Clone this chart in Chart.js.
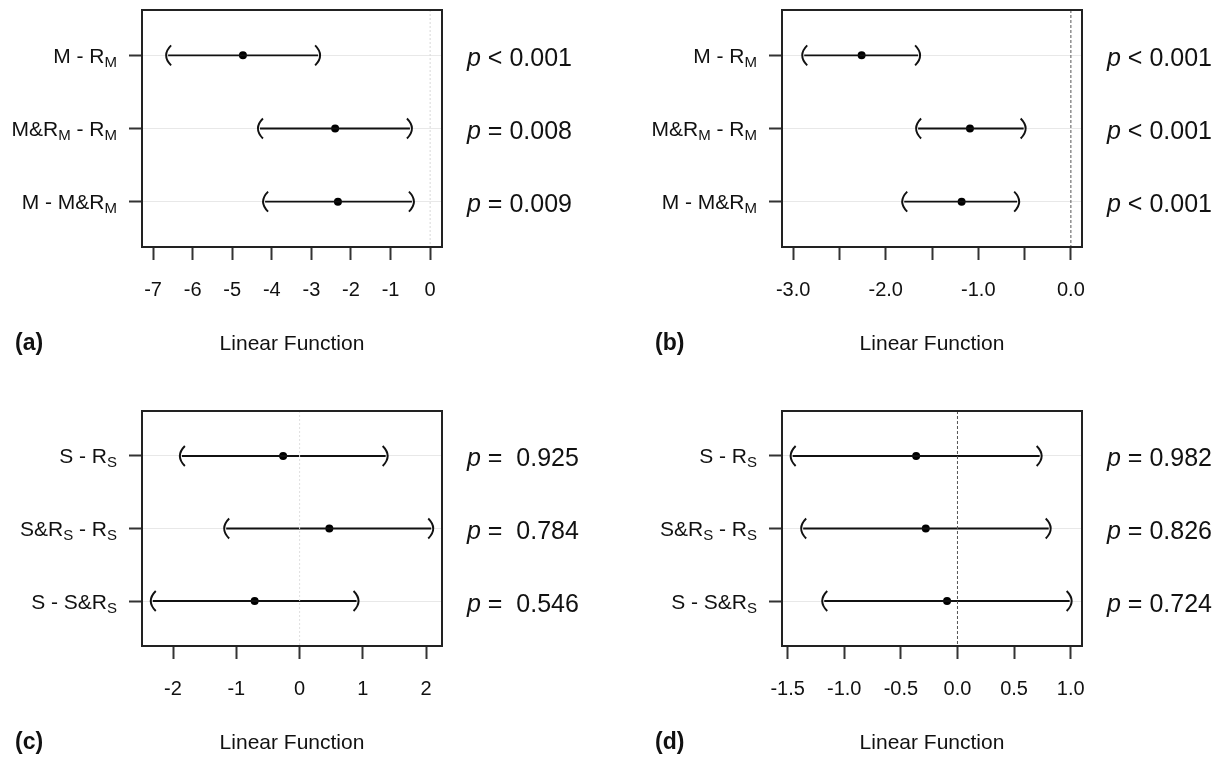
<!DOCTYPE html>
<html>
<head>
<meta charset="utf-8">
<script src="https://cdn.jsdelivr.net/npm/chart.js"></script>
<style>
  body { margin: 0; background: #fff; }
  #wrap { position: relative; width: 1223px; height: 758px; }
  canvas { position: absolute; }
</style>
</head>
<body>
<div id="wrap">
  <canvas id="pa" width="611" height="379" style="left:0;top:0"></canvas>
  <canvas id="pb" width="612" height="379" style="left:611px;top:0"></canvas>
  <canvas id="pc" width="611" height="379" style="left:0;top:379px"></canvas>
  <canvas id="pd" width="612" height="379" style="left:611px;top:379px"></canvas>
</div>
<script>
// comparisons, top to bottom ( _X = subscript X )
const rowsM = ['M - R_M', 'M&R_M - R_M', 'M - M&R_M'];
const rowsS = ['S - R_S', 'S&R_S - R_S', 'S - S&R_S'];
const rowPos = [1, 2, 3];

// (a)
const aEst  = [-4.73, -2.40, -2.33];
const aLow  = [-6.62, -4.30, -4.17];
const aHigh = [-2.83, -0.51, -0.46];
const aP    = ['< 0.001', '= 0.008', '= 0.009'];
const aTicks = [-7, -6, -5, -4, -3, -2, -1, 0];
const aTickLabels = ['-7', '-6', '-5', '-4', '-3', '-2', '-1', '0'];

// (b)
const bEst  = [-2.26, -1.09, -1.18];
const bLow  = [-2.88, -1.65, -1.80];
const bHigh = [-1.65, -0.51, -0.58];
const bP    = ['< 0.001', '< 0.001', '< 0.001'];
const bTicks = [-3, -2.5, -2, -1.5, -1, -0.5, 0];
const bTickLabels = ['-3.0', '', '-2.0', '', '-1.0', '', '0.0'];

// (c)
const cEst  = [-0.26, 0.47, -0.71];
const cLow  = [-1.86, -1.16, -2.32];
const cHigh = [1.36, 2.08, 0.90];
const cP    = ['=  0.925', '=  0.784', '=  0.546'];
const cTicks = [-2, -1, 0, 1, 2];
const cTickLabels = ['-2', '-1', '0', '1', '2'];

// (d)
const dEst  = [-0.365, -0.28, -0.092];
const dLow  = [-1.456, -1.363, -1.177];
const dHigh = [0.726, 0.806, 0.991];
const dP    = ['= 0.982', '= 0.826', '= 0.724'];
const dTicks = [-1.5, -1, -0.5, 0, 0.5, 1];
const dTickLabels = ['-1.5', '-1.0', '-0.5', '0.0', '0.5', '1.0'];

const FONT = "'Liberation Sans', Arial, Helvetica, sans-serif";
const INK = '#111';
Chart.defaults.font.family = FONT;
Chart.defaults.color = INK;

function paren(ctx, px, py, dir) {
  // dir -1 => "(" , +1 => ")"
  const end = px - dir * 3, ctrl = px + dir * 7;
  ctx.beginPath();
  ctx.moveTo(end, py - 10);
  ctx.quadraticCurveTo(ctrl, py, end, py + 10);
  ctx.stroke();
}

// row label with simple subscripts
function drawLabel(ctx, str, right, base) {
  const parts = [];
  for (let i = 0; i < str.length; i++) {
    if (str[i] === '_') { parts.push({t: str[i + 1], sub: true}); i++; }
    else if (parts.length && !parts[parts.length - 1].sub) parts[parts.length - 1].t += str[i];
    else parts.push({t: str[i], sub: false});
  }
  const fMain = '21px ' + FONT, fSub = '15px ' + FONT;
  let w = 0;
  parts.forEach(p => { ctx.font = p.sub ? fSub : fMain; p.w = ctx.measureText(p.t).width; w += p.w; });
  let x = right - w;
  parts.forEach(p => {
    ctx.font = p.sub ? fSub : fMain;
    ctx.fillText(p.t, x, p.sub ? base + 4 : base);
    x += p.w;
  });
}

const deco = {
  id: 'deco',
  afterDatasetsDraw(chart, args, o) {
    const {ctx, chartArea: a, scales: {x, y}} = chart;
    ctx.save();
    ctx.strokeStyle = INK;
    ctx.lineWidth = 1.9;
    o.low.forEach((lo, i) => {
      const py = y.getPixelForValue(rowPos[i]);
      paren(ctx, x.getPixelForValue(lo), py, -1);
      paren(ctx, x.getPixelForValue(o.high[i]), py, 1);
    });
    ctx.lineWidth = 2;
    ctx.strokeStyle = '#222';
    ctx.strokeRect(a.left, a.top, a.right - a.left, a.bottom - a.top);
    ctx.restore();
  },
  afterDraw(chart, args, o) {
    const {ctx, chartArea: a, scales: {y}} = chart;
    ctx.save();
    ctx.fillStyle = INK;
    ctx.textAlign = 'left';
    ctx.textBaseline = 'alphabetic';
    o.rows.forEach((r, i) => {
      const py = y.getPixelForValue(rowPos[i]);
      drawLabel(ctx, r, a.left - 25, py + 7.5);
      // p value
      ctx.font = 'italic 25px ' + FONT;
      const px = a.right + 25;
      ctx.fillText('p', px, py + 10.5);
      const pw = ctx.measureText('p ').width;
      ctx.font = '25px ' + FONT;
      ctx.fillText(o.p[i], px + pw, py + 10.5);
    });
    ctx.font = '21px ' + FONT;
    ctx.textAlign = 'center';
    ctx.fillText('Linear Function', (a.left + a.right) / 2, a.bottom + 103);
    ctx.font = 'bold 23px ' + FONT;
    ctx.textAlign = 'left';
    ctx.fillText(o.tag, a.left - 127, a.bottom + 103);
    ctx.restore();
  }
};

function panel(id, cfg) {
  const ds = cfg.low.map((lo, i) => ({
    data: [{x: lo, y: rowPos[i]}, {x: cfg.high[i], y: rowPos[i]}],
    showLine: true, borderColor: INK, borderWidth: 1.9, pointRadius: 0
  }));
  ds.unshift({
    data: [{x: 0, y: cfg.yMin}, {x: 0, y: cfg.yMax}],
    showLine: true, borderColor: cfg.zeroColor, borderWidth: 1,
    borderDash: cfg.zeroDash, pointRadius: 0
  });
  ds.push({
    data: cfg.est.map((v, i) => ({x: v, y: rowPos[i]})),
    pointRadius: 4, pointBackgroundColor: '#000', pointBorderWidth: 0
  });
  return new Chart(document.getElementById(id), {
    type: 'scatter',
    data: {datasets: ds},
    options: {
      responsive: false,
      animation: false,
      events: [],
      layout: {padding: cfg.pad},
      plugins: {
        legend: {display: false},
        tooltip: {enabled: false},
        deco: {low: cfg.low, high: cfg.high, rows: cfg.rows, p: cfg.p, tag: cfg.tag}
      },
      scales: {
        x: {
          type: 'linear', min: cfg.xMin, max: cfg.xMax,
          afterBuildTicks: s => { s.ticks = cfg.ticks.map(v => ({value: v})); },
          afterFit: s => { s.height = 100; },
          border: {display: false},
          grid: {drawOnChartArea: false, drawTicks: true, tickLength: 13, tickWidth: 2, tickColor: '#333'},
          ticks: {
            autoSkip: false, maxRotation: 0, padding: 18, color: INK,
            font: {size: 20},
            callback: (v, i) => cfg.tickLabels[i]
          }
        },
        y: {
          type: 'linear', reverse: true, min: cfg.yMin, max: cfg.yMax,
          afterBuildTicks: s => { s.ticks = rowPos.map(v => ({value: v})); },
          afterFit: s => { s.width = 30; },
          border: {display: false},
          grid: {color: '#e8e8e8', lineWidth: 1, drawTicks: true, tickLength: 13, tickWidth: 2, tickColor: '#333'},
          ticks: {display: false}
        }
      }
    },
    plugins: [deco]
  });
}

const yMin = 0.38, yMax = 3.62;

panel('pa', {tag: '(a)', rows: rowsM, est: aEst, low: aLow, high: aHigh, p: aP,
  ticks: aTicks, tickLabels: aTickLabels, xMin: -7.28, xMax: 0.30, yMin, yMax,
  zeroColor: '#d8d8d8', zeroDash: [2, 2],
  pad: {left: 112, right: 169, top: 10, bottom: 32}});

panel('pb', {tag: '(b)', rows: rowsM, est: bEst, low: bLow, high: bHigh, p: bP,
  ticks: bTicks, tickLabels: bTickLabels, xMin: -3.12, xMax: 0.12, yMin, yMax,
  zeroColor: '#555', zeroDash: [3, 2],
  pad: {left: 141, right: 141, top: 10, bottom: 32}});

panel('pc', {tag: '(c)', rows: rowsS, est: cEst, low: cLow, high: cHigh, p: cP,
  ticks: cTicks, tickLabels: cTickLabels, xMin: -2.49, xMax: 2.25, yMin, yMax,
  zeroColor: '#e0e0e0', zeroDash: [2, 2],
  pad: {left: 112, right: 169, top: 32, bottom: 12}});

panel('pd', {tag: '(d)', rows: rowsS, est: dEst, low: dLow, high: dHigh, p: dP,
  ticks: dTicks, tickLabels: dTickLabels, xMin: -1.55, xMax: 1.10, yMin, yMax,
  zeroColor: '#555', zeroDash: [3, 2],
  pad: {left: 141, right: 141, top: 32, bottom: 12}});
</script>
</body>
</html>
